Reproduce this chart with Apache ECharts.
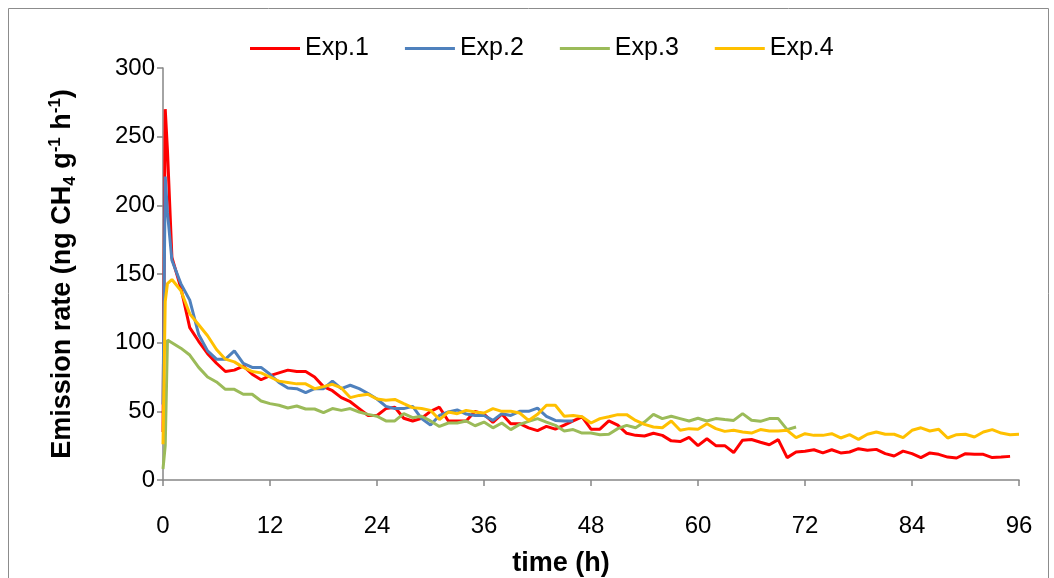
<!DOCTYPE html>
<html>
<head>
<meta charset="utf-8">
<script src="https://cdn.jsdelivr.net/npm/echarts@6/dist/echarts.min.js"></script>
<style>
html,body{margin:0;padding:0;background:#fff;}
#chart{width:1054px;height:578px;}
</style>
</head>
<body>
<div id="chart"></div>
<script>
// time points (h)
const timeH = [0,0.25,0.5,1,2,3,4,5,6,7,8,9,10,11,12,13,14,15,16,17,18,19,20,21,22,23,24,25,26,27,28,29,30,31,32,33,34,35,36,37,38,39,40,41,42,43,44,45,46,47,48,49,50,51,52,53,54,55,56,57,58,59,60,61,62,63,64,65,66,67,68,69,70,71,72,73,74,75,76,77,78,79,80,81,82,83,84,85,86,87,88,89,90,91,92,93,94,95,96];

const seriesNames = ['Exp.1','Exp.2','Exp.3','Exp.4'];

const exp1 = [35,270,240,162,140,111,101,92,85,79,80,83,77,73,76,78,80,79,79,75,68,65,60,57,52,47,47,52,53,45,43,45,50,53,43,43,43,50,48,42,48,41,41,38,36,39,37,40,43,46,37,37,43,40,34,32.5,32,34,32.5,28.5,28,31,25,30,25,25,20,29,29.5,27.5,25.7,29.4,16.3,20.4,21,22,19.7,22,19.7,20.4,22.8,21.6,22.3,19.2,17.5,21,19.2,16.3,19.7,18.7,16.7,16,19.2,18.7,18.7,16.3,16.7,17.2,null];

const exp2 = [55,221,195,160,143,131,106,94,88,88,94,85,82,82,77,71,67,66.5,63.6,66.5,66.5,72,66.5,69,66.5,63,59,53.6,52,52,53.6,44.7,40,47,49.5,51,48,47,47,43.4,48.3,47,50,50,52.4,46.4,43.4,43,43];

const exp3 = [8,25,102,100,96,91,82,75,71.4,66,66,62.4,62.4,57.5,55.6,54.4,52.4,53.9,51.7,51.7,49,52,50.7,52,49.5,47.8,46.4,43,43,48.3,45.4,46.4,43,39,41.5,41.5,43,39.5,42.2,38,41.5,36.7,40.5,42.7,44.7,42.2,39.8,35.7,36.7,34.2,34.2,33,33.3,37.4,39.8,38,42.2,47.8,44.7,46.4,44.7,43,45,43,44.7,44,43.4,48.3,43.5,42.7,44.7,44.7,36.7,38.6];

const exp4 = [26,130,143,146,138,121,113,105,95,88,86,82,79,78,75,72,71,70,70,66.5,68,69.7,67,60,61.6,62.4,59,58,58.7,55.6,52.7,52,50.7,44,49.5,48.3,50.7,49.5,48.8,52,50,50,48.8,43.4,47.8,54.4,54.4,46.4,47,46,41.5,44.7,46,47.6,47.6,43.4,40.5,38.6,38,43,36.2,37.4,36.9,41,37.4,35.4,36.2,35,34.2,36.7,35.7,35.7,36.2,30.8,33.7,32.5,32.5,33.7,30.6,33,29.6,33.3,35,33.3,33.3,30.8,36.2,38,35.7,36.9,30.6,33,33.3,31.3,35,36.7,34.2,33,33.3];

const colors = ['#FF0000','#4F81BD','#9BBB59','#FFC000'];
const xTicks = {min:0, max:96, interval:12};
const yTicks = {min:0, max:300, interval:50};

function pairs(vals){
  const out = [];
  vals.forEach((v,i)=>{ if(v!==null && v!==undefined) out.push([timeH[i], v]); });
  return out;
}

const FONT = "'Liberation Sans', Arial, sans-serif";
const chart = echarts.init(document.getElementById('chart'), null, {renderer:'canvas'});
const allVals = [exp1,exp2,exp3,exp4];

chart.setOption({
  animation:false,
  backgroundColor:'#fff',
  graphic:[{
    type:'rect', shape:{x:8.5,y:8.5,width:1040,height:620},
    style:{fill:null, stroke:'#8c8c8c', lineWidth:1}, silent:true, z:-10
  }],
  legend:{
    top:31, left:245,
    itemWidth:50, itemHeight:3, itemGap:36,
    icon:'rect',
    textStyle:{fontFamily:FONT, fontSize:25, color:'#000'},
    data:seriesNames
  },
  grid:{left:163, right:35, top:68, bottom:98, containLabel:false, outerBoundsMode:'none'},
  xAxis:{
    type:'value', min:xTicks.min, max:xTicks.max, interval:xTicks.interval,
    name:'time (h)', nameLocation:'middle', nameGap:70,
    nameTextStyle:{fontFamily:FONT, fontSize:27, fontWeight:'bold', color:'#000', padding:[0,60,0,0]},
    axisLine:{show:true, onZero:false, lineStyle:{color:'#868686', width:1.5}},
    axisTick:{show:true, length:6, inside:false, lineStyle:{color:'#868686', width:1.5}},
    axisLabel:{fontFamily:FONT, fontSize:24, color:'#000', margin:34},
    splitLine:{show:false}
  },
  yAxis:{
    type:'value', min:yTicks.min, max:yTicks.max, interval:yTicks.interval,
    name:'{b|Emission rate (ng CH}{sub|4}{b| g}{sup|-1}{b| h}{sup|-1}{b|)}',
    nameLocation:'middle', nameGap:84, nameRotate:90,
    nameTextStyle:{
      fontFamily:FONT, fontSize:27, fontWeight:'bold', color:'#000',
      rich:{
        b:{fontFamily:FONT, fontSize:27, fontWeight:'bold', color:'#000', lineHeight:32, verticalAlign:'middle'},
        sub:{fontFamily:FONT, fontSize:17, fontWeight:'bold', color:'#000', lineHeight:18, verticalAlign:'bottom'},
        sup:{fontFamily:FONT, fontSize:17, fontWeight:'bold', color:'#000', lineHeight:18, verticalAlign:'top'}
      }
    },
    axisLine:{show:true, lineStyle:{color:'#868686', width:1.5}},
    axisTick:{show:true, length:6, inside:false, lineStyle:{color:'#868686', width:1.5}},
    axisLabel:{fontFamily:FONT, fontSize:24, color:'#000', margin:8},
    splitLine:{show:false}
  },
  series: seriesNames.map((n,k)=>({
    name:n, type:'line', data:pairs(allVals[k]),
    showSymbol:false, symbol:'none', smooth:false,
    lineStyle:{color:colors[k], width:3},
    itemStyle:{color:colors[k]},
    connectNulls:false
  }))
});
</script>
</body>
</html>
